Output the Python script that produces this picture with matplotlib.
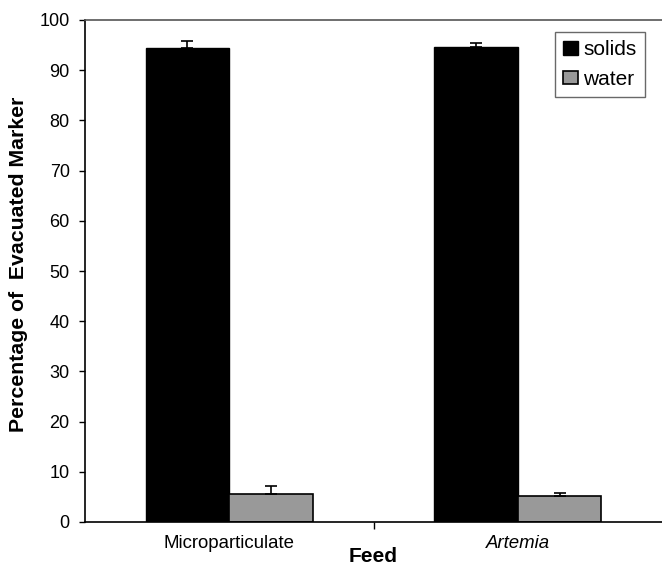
import matplotlib
matplotlib.use("Agg")
import matplotlib.pyplot as plt
import numpy as np

plt.rcParams['font.family'] = ['Liberation Sans', 'DejaVu Sans']

categories = ["Microparticulate", "Artemia"]
solids = [94.4, 94.7]
solids_err = [1.5, 0.8]
water = [5.6, 5.2]
water_err = [1.6, 0.6]

W, H = 662, 567
fig = plt.figure(figsize=(W/100, H/100), dpi=100)
ax = fig.add_axes([85/W, 45/H, 577/W, 502/H])

x = np.arange(len(categories))
w = 0.29
ekw = dict(ecolor='black', elinewidth=1.2, capsize=4, capthick=1.2)
ax.bar(x - w/2, solids, w, color='black', edgecolor='black', linewidth=1, label='solids',
       yerr=[np.zeros(2), solids_err], error_kw=ekw)
ax.bar(x + w/2, water, w, color='#999999', edgecolor='black', linewidth=1.2, label='water',
       yerr=[np.zeros(2), water_err], error_kw=ekw)

ax.set_xlim(-0.5, 1.5)
ax.set_ylim(0, 100)
ax.set_yticks(range(0, 101, 10))
ax.set_xticks([0.5])
ax.set_xticklabels([''])
ax.tick_params(axis='x', length=5, width=1)
ax.tick_params(axis='y', length=4, width=1, labelsize=13, pad=7)

for i, c in enumerate(categories):
    xd = ax.transData.transform((x[i], 0))[0] / W
    fig.text(xd, (H - 548) / H, c, ha='center', va='baseline', fontsize=13.4,
             style='italic' if c == 'Artemia' else 'normal')
fig.text(ax.transData.transform((0.5, 0))[0] / W, (H - 562) / H, 'Feed', ha='center',
         va='baseline', fontsize=15, fontweight='bold')
fig.text(19 / W, (H - 264) / H, 'Percentage of  Evacuated Marker', rotation=90,
         ha='center', va='center', fontsize=15.3, fontweight='bold')

for s in ['left', 'bottom']:
    ax.spines[s].set_linewidth(1.2)
ax.spines['top'].set_color('#555555')
ax.spines['top'].set_linewidth(1.2)
ax.spines['right'].set_visible(False)

leg = ax.legend(loc='upper right', bbox_to_anchor=(1.0 - 17/577, 1.0 - 12/502), fontsize=15,
                frameon=True, fancybox=False, edgecolor='#444444', handlelength=0.72,
                handleheight=0.6, handletextpad=0.25, borderpad=0.4, labelspacing=0.5,
                borderaxespad=0)
leg.get_frame().set_linewidth(1)

fig.savefig('out.png', dpi=100)
